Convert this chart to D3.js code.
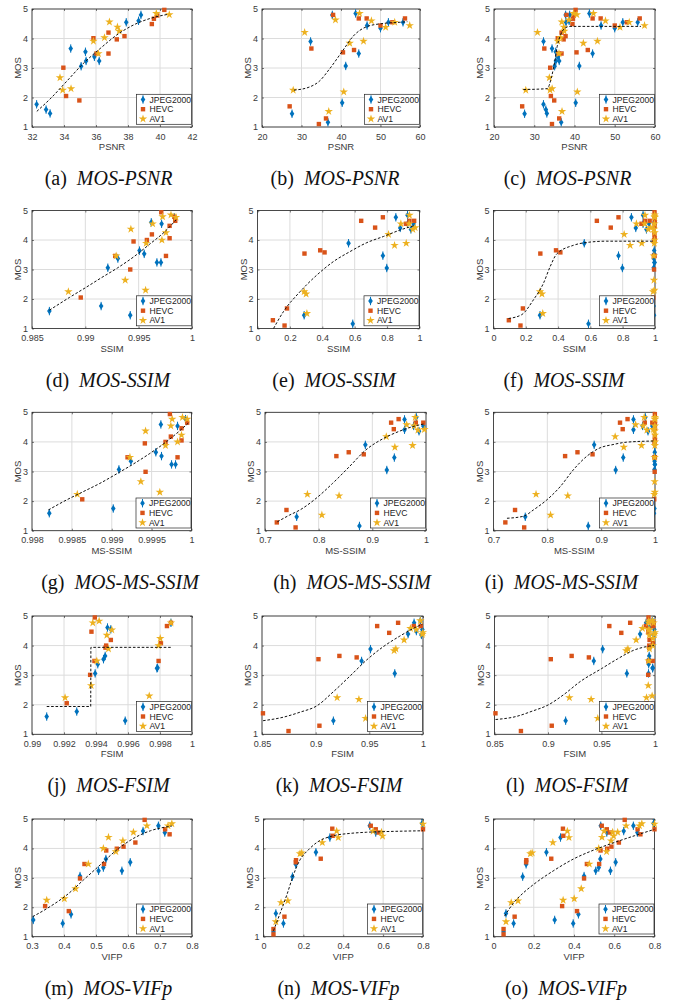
<!DOCTYPE html>
<html>
<head>
<meta charset="utf-8">
<script src="https://cdn.jsdelivr.net/npm/d3@7"></script>
<style>
  body { margin: 0; background: #fff; }
  text { font-family: "Liberation Sans", Arial, sans-serif; }
</style>
</head>
<body>
<svg id="chart" width="675" height="1004"></svg>
<script>
// ---- data: column 1 (one set), column 2 (other set); column 3 plots both ----
const mosTicks = [1, 2, 3, 4, 5];
const codecs = ["JPEG2000", "HEVC", "AV1"];

// PSNR
const psnrTicksA = [32, 34, 36, 38, 40, 42];
const psnrTicksB = [20, 30, 40, 50, 60];
const psnrA_jpeg = [[32.29,1.77],[32.88,1.59],[33.13,1.46],[34.42,3.66],[35.07,3.06],[35.34,3.55],[35.38,3.24],[35.90,3.38],[36.20,3.24],[37.89,4.55],[38.66,4.60],[38.81,4.80]];
const psnrA_hevc = [[33.96,3.01],[34.13,2.05],[34.96,1.90],[35.84,4.01],[36.03,3.49],[36.78,4.20],[36.78,3.49],[37.30,3.97],[37.78,4.08],[39.49,4.49],[39.62,4.67],[39.83,4.78],[40.27,4.97]];
const psnrA_av1 = [[33.75,2.67],[33.92,2.25],[34.44,2.30],[35.84,3.91],[36.15,3.49],[36.53,4.03],[36.84,4.56],[37.34,4.39],[37.45,4.25],[39.77,4.85],[40.58,4.81]];
const psnrB_jpeg = [[27.6,1.45],[36.7,1.16],[40.3,1.82],[41.2,3.07],[44.5,3.49],[32.3,3.90],[37.8,4.80],[43.7,4.85],[46.6,4.44],[50.0,4.35],[52.0,4.55],[55.7,4.55]];
const psnrB_hevc = [[27.0,1.70],[34.4,1.10],[36.2,1.29],[32.5,3.66],[38.0,4.80],[40.5,3.53],[43.3,3.61],[44.5,4.68],[46.5,4.68],[50.0,4.44],[53.0,4.55],[56.2,4.68]];
const psnrB_av1 = [[27.9,2.25],[30.8,4.21],[36.9,1.53],[38.6,4.63],[40.7,2.19],[42.2,3.84],[45.7,3.91],[44.7,4.85],[47.7,4.60],[51.3,4.38],[53.6,4.55],[57.4,4.44]];
const fitA_psnr = [[32.3,1.53],[33.13,1.95],[34.17,2.55],[35.2,3.15],[36.26,3.66],[37.3,4.12],[38.35,4.46],[39.39,4.68],[40.5,4.82]];
const fitB_psnr = [[28.1,2.25],[32.1,2.36],[34.5,2.55],[37.0,2.95],[40.5,3.60],[43.1,4.08],[46.5,4.40],[50.7,4.51],[54.9,4.55],[56.8,4.57]];
const fitC_psnr = [[27.3,2.27],[33.2,2.30],[34.3,2.70],[35.15,3.27],[35.7,3.73],[36.4,4.07],[37.6,4.35],[38.9,4.41],[56.5,4.41]];

// SSIM
const ssimTicksA = [0.985, 0.99, 0.995, 1];
const ssimTicksB = [0, 0.2, 0.4, 0.6, 0.8, 1];
const ssimA_jpeg = [[0.98663,1.59],[0.99148,1.76],[0.99421,1.45],[0.99211,3.06],[0.99305,3.37],[0.99508,3.64],[0.99552,3.53],[0.99671,3.24],[0.99709,3.24],[0.99618,4.60],[0.99715,4.55],[0.99834,4.77]];
const ssimA_hevc = [[0.98957,2.05],[0.99280,3.46],[0.99421,3.00],[0.99452,3.95],[0.99577,4.00],[0.99624,4.19],[0.99756,3.46],[0.99712,4.94],[0.99790,4.06],[0.99790,4.48],[0.99843,4.65],[0.99834,4.79]];
const ssimA_av1 = [[0.98841,2.25],[0.99289,3.46],[0.99374,2.64],[0.99427,4.37],[0.99565,2.30],[0.99571,3.89],[0.99631,4.55],[0.99724,4.79],[0.99718,4.00],[0.99756,4.25],[0.99803,4.85],[0.99850,4.77]];
const ssimB_jpeg = [[0.288,1.45],[0.588,1.16],[0.562,3.89],[0.774,3.47],[0.798,3.05],[0.854,4.77],[0.881,4.41],[0.926,4.55],[0.926,4.84],[0.947,4.36],[0.963,4.55]];
const ssimB_hevc = [[0.095,1.28],[0.167,1.10],[0.182,1.68],[0.290,3.54],[0.387,3.65],[0.414,3.58],[0.640,4.65],[0.726,4.42],[0.774,4.77],[0.916,4.55],[0.938,4.65],[0.967,4.65]];
const ssimB_av1 = [[0.288,2.25],[0.300,2.17],[0.305,1.51],[0.809,4.19],[0.846,3.82],[0.885,4.55],[0.918,3.89],[0.936,4.55],[0.938,4.84],[0.959,4.36],[0.973,4.42]];
const fitA_ssim = [[0.98663,1.62],[0.9885,2.05],[0.9900,2.38],[0.9915,2.72],[0.9930,3.05],[0.9945,3.42],[0.9960,3.85],[0.9975,4.30],[0.9985,4.68]];
const fitB_ssim = [[0.099,1.0],[0.160,1.57],[0.263,2.25],[0.366,2.81],[0.469,3.27],[0.572,3.61],[0.675,3.91],[0.778,4.12],[0.881,4.34],[0.963,4.48]];
const fitC_ssim = [[0.093,1.34],[0.175,1.47],[0.247,1.97],[0.309,2.53],[0.351,3.10],[0.392,3.53],[0.495,3.82],[0.598,3.93],[0.701,3.96],[0.995,3.96]];

// MS-SSIM
const msTicksA = [0.998, 0.9985, 0.999, 0.9995, 1];
const msTicksB = [0.7, 0.8, 0.9, 1];
const msA_jpeg = [[0.998217,1.59],[0.999019,1.75],[0.999090,3.07],[0.999240,3.35],[0.999553,3.65],[0.999624,3.52],[0.999616,4.59],[0.999750,3.24],[0.999800,3.24],[0.999825,4.54],[0.999925,4.77]];
const msA_hevc = [[0.998630,2.06],[0.999198,3.48],[0.999415,3.95],[0.999424,2.99],[0.999674,4.00],[0.999741,4.18],[0.999729,4.94],[0.999825,3.48],[0.999875,4.46],[0.999875,4.05],[0.999946,4.65]];
const msA_av1 = [[0.998568,2.23],[0.999228,3.48],[0.999365,2.66],[0.999424,4.37],[0.999603,2.30],[0.999674,3.88],[0.999741,4.54],[0.999758,4.77],[0.999825,4.00],[0.999875,4.23],[0.999887,4.83],[0.999946,4.77]];
const msB_jpeg = [[0.759,1.47],[0.876,1.16],[0.887,3.90],[0.927,3.05],[0.941,3.47],[0.960,4.76],[0.960,4.41],[0.977,4.54],[0.982,4.83],[0.987,4.36],[0.995,4.54]];
const msB_hevc = [[0.722,1.28],[0.740,1.70],[0.757,1.11],[0.833,3.52],[0.856,3.65],[0.884,3.58],[0.935,4.65],[0.940,4.43],[0.949,4.77],[0.981,4.65],[0.995,4.65]];
const msB_av1 = [[0.779,2.23],[0.806,1.53],[0.838,2.18],[0.926,4.18],[0.942,3.82],[0.964,4.58],[0.975,3.88],[0.978,4.54],[0.980,4.83],[0.985,4.40],[0.997,4.42]];
const fitA_ms = [[0.998205,1.70],[0.998434,2.04],[0.998643,2.32],[0.998852,2.60],[0.999061,2.92],[0.999269,3.25],[0.999478,3.61],[0.999687,4.01],[0.999854,4.38],[0.999958,4.63]];
const fitB_ms = [[0.723,1.30],[0.746,1.53],[0.765,1.70],[0.795,2.09],[0.826,2.60],[0.857,3.16],[0.888,3.73],[0.918,4.09],[0.949,4.35],[0.980,4.54],[0.997,4.61]];
const fitC_ms = [[0.725,1.42],[0.756,1.49],[0.774,1.70],[0.799,2.04],[0.824,2.49],[0.848,3.05],[0.873,3.51],[0.898,3.80],[0.922,3.91],[0.947,3.99],[0.997,4.03]];

// FSIM
const fsTicksA = [0.99, 0.992, 0.994, 0.996, 0.998, 1];
const fsTicksB = [0.85, 0.9, 0.95, 1];
const fsA_jpeg = [[0.990919,1.60],[0.992797,1.77],[0.993946,3.06],[0.994113,3.37],[0.994468,3.54],[0.994572,3.65],[0.994718,4.61],[0.994927,4.55],[0.995825,1.46],[0.997808,3.23],[0.997850,3.25],[0.998685,4.77]];
const fsA_hevc = [[0.992171,2.05],[0.993633,3.01],[0.993904,3.48],[0.993716,4.47],[0.993925,4.95],[0.994635,4.00],[0.994593,3.93],[0.994927,4.19],[0.997912,3.48],[0.998058,4.08],[0.998434,4.66],[0.998685,4.77]];
const fsA_av1 = [[0.992067,2.24],[0.993695,2.65],[0.993800,4.77],[0.994050,3.48],[0.994196,4.83],[0.994676,4.35],[0.994781,3.89],[0.994990,4.53],[0.997328,2.30],[0.997912,4.00],[0.998017,4.24],[0.998685,4.77]];
const fsB_jpeg = [[0.9165,1.46],[0.9428,3.48],[0.9511,3.88],[0.9737,3.06],[0.9861,4.39],[0.9917,4.77],[0.9975,4.84],[0.9994,4.54],[0.9985,4.36],[0.9938,4.49]];
const fsB_hevc = [[0.8509,1.71],[0.8747,1.11],[0.9035,1.29],[0.9026,3.54],[0.9221,3.65],[0.9382,3.60],[0.9573,4.66],[0.9685,4.43],[0.9768,4.77],[0.9914,4.66],[0.9979,4.66]];
const fsB_av1 = [[0.9200,2.24],[0.9403,2.18],[0.9465,1.54],[0.9731,3.83],[0.9747,3.89],[0.9824,4.19],[0.9883,4.58],[0.9938,4.54],[0.9975,4.84],[0.9994,4.38],[0.9999,4.44]];
const fitA_fs = [[0.99092,1.94],[0.99367,1.94],[0.99368,3.94],[0.99869,3.94]];
const fitB_fs = [[0.851,1.46],[0.870,1.58],[0.8856,1.75],[0.901,1.96],[0.9165,2.44],[0.932,2.97],[0.9474,3.51],[0.9629,3.96],[0.9784,4.32],[0.9938,4.63],[0.9994,4.72]];
const fitC_fs = [[0.851,1.50],[0.87,1.60],[0.885,1.78],[0.90,1.99],[0.915,2.35],[0.93,2.78],[0.95,3.22],[0.965,3.55],[0.98,3.84],[0.999,4.01]];

// VIFp
const vifTicksA = [0.3, 0.4, 0.5, 0.6, 0.7, 0.8];
const vifTicksB = [0, 0.2, 0.4, 0.6, 0.8];
const vifA_jpeg = [[0.304,1.57],[0.396,1.45],[0.422,1.76],[0.450,3.06],[0.508,3.24],[0.523,3.35],[0.531,3.64],[0.581,3.24],[0.607,3.53],[0.647,4.59],[0.695,4.77],[0.715,4.54]];
const vifA_hevc = [[0.341,2.04],[0.415,1.87],[0.450,2.98],[0.464,3.47],[0.525,3.47],[0.532,3.93],[0.565,3.99],[0.586,4.06],[0.623,4.20],[0.652,4.97],[0.716,4.65],[0.730,4.48]];
const vifA_av1 = [[0.346,2.24],[0.401,2.29],[0.436,2.63],[0.476,3.47],[0.523,4.00],[0.539,4.38],[0.562,3.89],[0.584,4.26],[0.617,4.55],[0.659,4.77],[0.725,4.77],[0.737,4.84]];
const vifB_jpeg = [[0.05,1.17],[0.062,1.79],[0.10,1.45],[0.145,3.04],[0.162,3.46],[0.263,3.87],[0.333,4.37],[0.533,4.77],[0.563,4.54],[0.795,4.85]];
const vifB_hevc = [[0.05,1.08],[0.05,1.26],[0.105,1.68],[0.162,3.53],[0.163,3.60],[0.287,3.65],[0.345,4.67],[0.347,4.43],[0.538,4.77],[0.563,4.65],[0.578,4.54],[0.80,4.65]];
const vifB_av1 = [[0.062,1.51],[0.088,2.16],[0.122,2.22],[0.183,3.82],[0.192,3.85],[0.295,4.20],[0.367,4.59],[0.375,4.37],[0.550,4.59],[0.592,4.55],[0.597,4.42],[0.80,4.83]];
const fitA_vif = [[0.302,1.68],[0.356,2.02],[0.409,2.42],[0.461,2.93],[0.513,3.44],[0.565,3.95],[0.617,4.34],[0.670,4.60],[0.737,4.76]];
const fitB_vif = [[0.05,1.20],[0.083,1.79],[0.117,2.42],[0.15,3.10],[0.183,3.61],[0.225,3.95],[0.267,4.20],[0.35,4.43],[0.433,4.51],[0.517,4.55],[0.60,4.57],[0.80,4.60]];
const fitC_vif = [[0.055,1.70],[0.1,2.15],[0.15,2.5],[0.2,2.78],[0.3,3.25],[0.4,3.65],[0.5,3.95],[0.6,4.2],[0.7,4.43],[0.8,4.65]];

// ---- layout ----
const colors = ["#0072BD", "#D95319", "#EDB120"];
const axisColor = "#262626";
const rows = [[9, 127], [210.5, 328.5], [412.3, 530.7], [616, 734.3], [819, 936.7]];

const panels = [
  { tag: "(a)", cap: "MOS-PSNR", row: 0, x: [32, 192], cx: 108.5, xd: [32, 42], xt: psnrTicksA, xl: "PSNR",
    series: [psnrA_jpeg, psnrA_hevc, psnrA_av1], fit: fitA_psnr },
  { tag: "(b)", cap: "MOS-PSNR", row: 0, x: [262, 420], cx: 335, xd: [20, 60], xt: psnrTicksB, xl: "PSNR",
    series: [psnrB_jpeg, psnrB_hevc, psnrB_av1], fit: fitB_psnr },
  { tag: "(c)", cap: "MOS-PSNR", row: 0, x: [494, 655], cx: 567.5, xd: [20, 60], xt: psnrTicksB, xl: "PSNR",
    series: [psnrA_jpeg.concat(psnrB_jpeg), psnrA_hevc.concat(psnrB_hevc), psnrA_av1.concat(psnrB_av1)], fit: fitC_psnr },

  { tag: "(d)", cap: "MOS-SSIM", row: 1, x: [32, 192], cx: 108, xd: [0.985, 1], xt: ssimTicksA, xl: "SSIM",
    series: [ssimA_jpeg, ssimA_hevc, ssimA_av1], fit: fitA_ssim },
  { tag: "(e)", cap: "MOS-SSIM", row: 1, x: [257.5, 419.5], cx: 334, xd: [0, 1], xt: ssimTicksB, xl: "SSIM",
    series: [ssimB_jpeg, ssimB_hevc, ssimB_av1], fit: fitB_ssim },
  { tag: "(f)", cap: "MOS-SSIM", row: 1, x: [493.5, 655], cx: 564, xd: [0, 1], xt: ssimTicksB, xl: "SSIM",
    series: [ssimA_jpeg.concat(ssimB_jpeg), ssimA_hevc.concat(ssimB_hevc), ssimA_av1.concat(ssimB_av1)], fit: fitC_ssim },

  { tag: "(g)", cap: "MOS-MS-SSIM", row: 2, x: [32, 191.5], cx: 120, xd: [0.998, 1], xt: msTicksA, xl: "MS-SSIM",
    series: [msA_jpeg, msA_hevc, msA_av1], fit: fitA_ms },
  { tag: "(h)", cap: "MOS-MS-SSIM", row: 2, x: [265, 426], cx: 352, xd: [0.7, 1], xt: msTicksB, xl: "MS-SSIM",
    series: [msB_jpeg, msB_hevc, msB_av1], fit: fitB_ms },
  { tag: "(i)", cap: "MOS-MS-SSIM", row: 2, x: [493.5, 655], cx: 561.5, xd: [0.7, 1], xt: msTicksB, xl: "MS-SSIM",
    series: [msA_jpeg.concat(msB_jpeg), msA_hevc.concat(msB_hevc), msA_av1.concat(msB_av1)], fit: fitC_ms },

  { tag: "(j)", cap: "MOS-FSIM", row: 3, x: [32, 192], cx: 108.5, xd: [0.99, 1], xt: fsTicksA, xl: "FSIM",
    series: [fsA_jpeg, fsA_hevc, fsA_av1], fit: fitA_fs, linear: true },
  { tag: "(k)", cap: "MOS-FSIM", row: 3, x: [262, 423], cx: 339, xd: [0.85, 1], xt: fsTicksB, xl: "FSIM",
    series: [fsB_jpeg, fsB_hevc, fsB_av1], fit: fitB_fs },
  { tag: "(l)", cap: "MOS-FSIM", row: 3, x: [494.5, 655], cx: 567, xd: [0.85, 1], xt: fsTicksB, xl: "FSIM",
    series: [fsA_jpeg.concat(fsB_jpeg), fsA_hevc.concat(fsB_hevc), fsA_av1.concat(fsB_av1)], fit: fitC_fs },

  { tag: "(m)", cap: "MOS-VIFp", row: 4, x: [32, 192], cx: 108.5, xd: [0.3, 0.8], xt: vifTicksA, xl: "VIFP",
    series: [vifA_jpeg, vifA_hevc, vifA_av1], fit: fitA_vif },
  { tag: "(n)", cap: "MOS-VIFp", row: 4, x: [263.5, 423], cx: 338.5, xd: [0, 0.8], xt: vifTicksB, xl: "VIFP",
    series: [vifB_jpeg, vifB_hevc, vifB_av1], fit: fitB_vif },
  { tag: "(o)", cap: "MOS-VIFp", row: 4, x: [493.5, 654.5], cx: 566, xd: [0, 0.8], xt: vifTicksB, xl: "VIFP",
    series: [vifA_jpeg.concat(vifB_jpeg), vifA_hevc.concat(vifB_hevc), vifA_av1.concat(vifB_av1)], fit: fitC_vif }
];

const svg = d3.select("#chart");
svg.append("rect").attr("width", 675).attr("height", 1004).attr("fill", "#fff");

const star = d3.symbol().type(d3.symbolStar).size(22);

function marker(sel, k, px, py) {
  if (k === 0) {
    sel.append("path")
      .attr("d", `M${px},${py - 3.4}L${px + 2.3},${py}L${px},${py + 3.4}L${px - 2.3},${py}Z`)
      .attr("fill", colors[0]);
    sel.append("line")
      .attr("x1", px).attr("x2", px).attr("y1", py - 4.2).attr("y2", py + 4.2)
      .attr("stroke", colors[0]).attr("stroke-width", 1);
  } else if (k === 1) {
    sel.append("rect")
      .attr("x", px - 2.2).attr("y", py - 2.2).attr("width", 4.4).attr("height", 4.4)
      .attr("fill", colors[1]);
  } else {
    sel.append("path")
      .attr("transform", `translate(${px},${py})`)
      .attr("d", star())
      .attr("fill", colors[2]);
  }
}

function drawPanel(p) {
  const [top, bottom] = rows[p.row];
  const [left, right] = p.x;
  const x = d3.scaleLinear().domain(p.xd).range([left, right]);
  const y = d3.scaleLinear().domain([1, 5]).range([bottom, top]);
  const g = svg.append("g");

  // grid
  g.append("g").selectAll("line").data(p.xt).join("line")
    .attr("x1", d => x(d)).attr("x2", d => x(d)).attr("y1", top).attr("y2", bottom)
    .attr("stroke", "#dcdcdc").attr("stroke-width", 1);
  g.append("g").selectAll("line").data(mosTicks).join("line")
    .attr("y1", d => y(d)).attr("y2", d => y(d)).attr("x1", left).attr("x2", right)
    .attr("stroke", "#dcdcdc").attr("stroke-width", 1);

  // axes (ticks inward, box on)
  const fmt = d => String(d);
  const ax = [
    g.append("g").attr("transform", `translate(0,${bottom})`)
      .call(d3.axisBottom(x).tickValues(p.xt).tickFormat(fmt).tickSizeInner(-2).tickSizeOuter(0).tickPadding(6.2)),
    g.append("g").attr("transform", `translate(${left},0)`)
      .call(d3.axisLeft(y).tickValues(mosTicks).tickFormat(fmt).tickSizeInner(-2).tickSizeOuter(0).tickPadding(4)),
    g.append("g").attr("transform", `translate(0,${top})`)
      .call(d3.axisTop(x).tickValues(p.xt).tickFormat("").tickSizeInner(-2).tickSizeOuter(0)),
    g.append("g").attr("transform", `translate(${right},0)`)
      .call(d3.axisRight(y).tickValues(mosTicks).tickFormat("").tickSizeInner(-2).tickSizeOuter(0))
  ];
  ax.forEach(a => {
    a.select(".domain").remove();
    a.selectAll("line").attr("stroke", axisColor).attr("stroke-width", 0.6);
    a.selectAll("text").attr("fill", "#3a3a3a").style("font-size", "9px")
      .style("font-family", "'Liberation Sans', Arial, sans-serif");
  });
  ax[1].selectAll("text").attr("dy", "0.28em");

  g.append("rect")
    .attr("x", left).attr("y", top).attr("width", right - left).attr("height", bottom - top)
    .attr("fill", "none").attr("stroke", axisColor).attr("stroke-width", 0.8);

  // axis titles
  g.append("text")
    .attr("x", (left + right) / 2).attr("y", bottom + 23)
    .attr("text-anchor", "middle").attr("fill", "#3a3a3a").style("font-size", "9.5px")
    .text(p.xl);
  g.append("text")
    .attr("transform", `translate(${left - 11},${(top + bottom) / 2}) rotate(-90)`)
    .attr("text-anchor", "middle").attr("fill", "#3a3a3a").style("font-size", "9.5px")
    .text("MOS");

  // points
  p.series.forEach((pts, k) => {
    const sg = g.append("g");
    pts.forEach(d => marker(sg, k, x(d[0]), y(d[1])));
  });

  // fitted curve
  const line = d3.line()
    .x(d => x(d[0])).y(d => y(d[1]))
    .curve(p.linear ? d3.curveLinear : d3.curveMonotoneX);
  g.append("path").datum(p.fit).attr("d", line)
    .attr("fill", "none").attr("stroke", "#111").attr("stroke-width", 1)
    .attr("stroke-dasharray", "2.6,1.8");

  // legend
  const lw = 55, lh = 30;
  const lx = right - lw - 0.5, ly = bottom - lh - 2.7;
  const lg = g.append("g");
  lg.append("rect").attr("x", lx).attr("y", ly).attr("width", lw).attr("height", lh)
    .attr("fill", "#fff").attr("stroke", axisColor).attr("stroke-width", 0.7);
  codecs.forEach((c, k) => {
    const ry = ly + 5.2 + k * 9.7;
    marker(lg, k, lx + 6.5, ry);
    lg.append("text").attr("x", lx + 13).attr("y", ry).attr("dy", "0.35em")
      .attr("fill", "#222").style("font-size", "8.6px").text(c);
  });

  // caption
  const cap = svg.append("text")
    .attr("x", p.cx).attr("y", bottom + 51).attr("dy", "0.35em")
    .attr("text-anchor", "middle")
    .style("font-family", "'Liberation Serif', 'Times New Roman', serif")
    .style("font-size", "20px").attr("fill", "#111");
  cap.append("tspan").text(p.tag + "\u2002");
  cap.append("tspan").style("font-style", "italic").text(p.cap);
}

panels.forEach(drawPanel);
</script>
</body>
</html>
